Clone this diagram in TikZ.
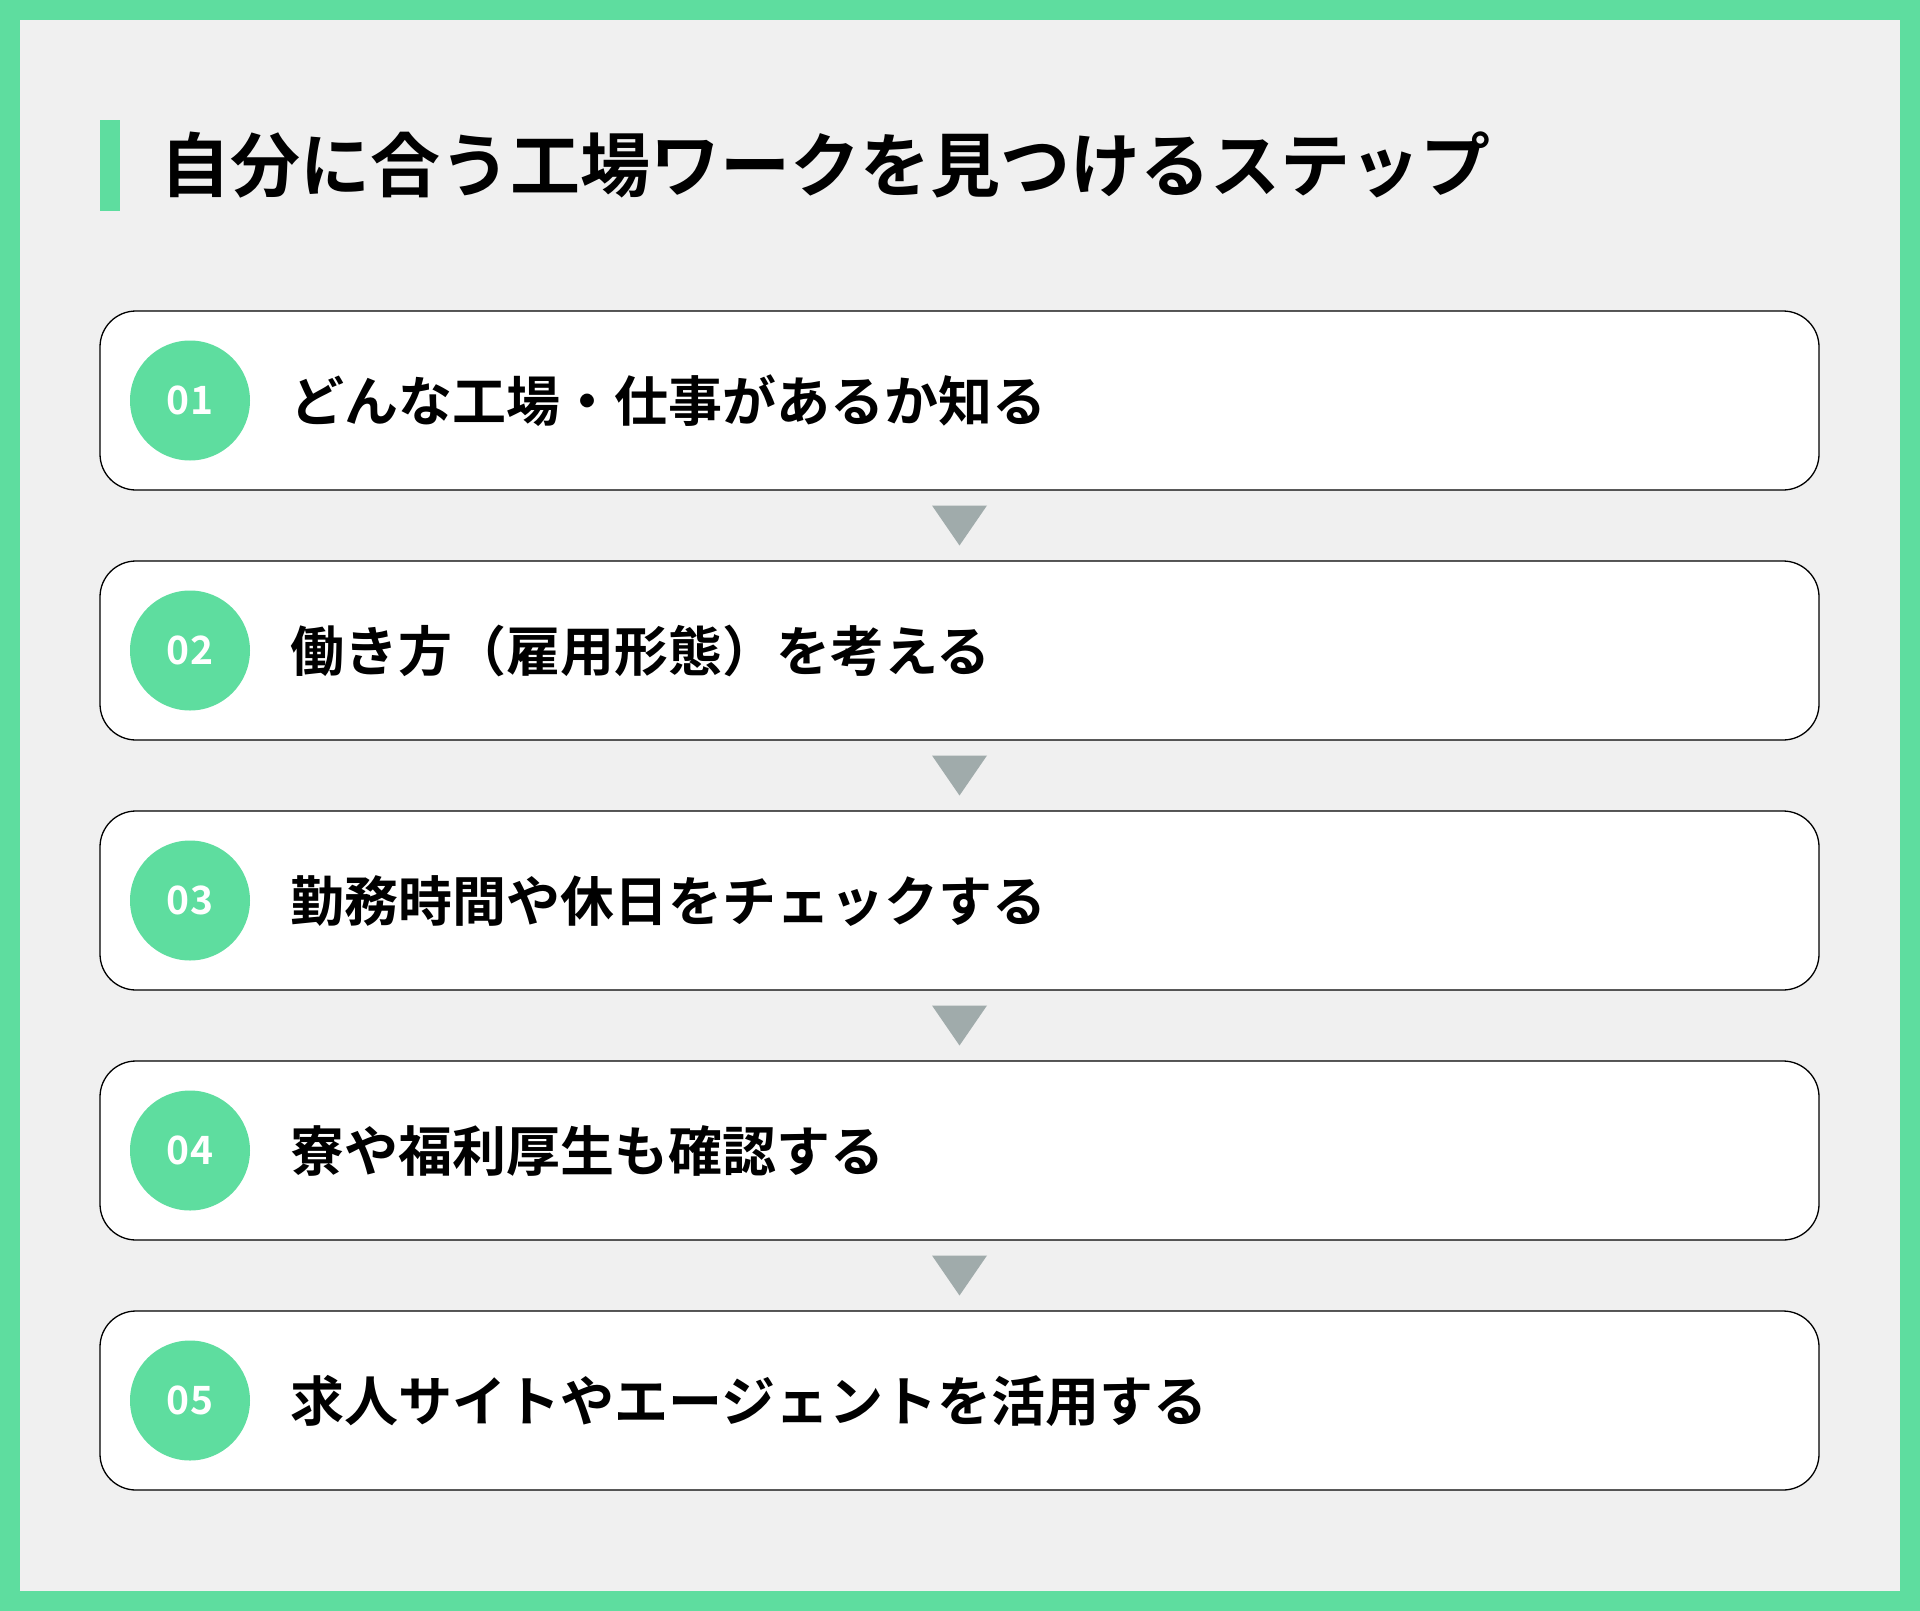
\documentclass[tikz,border=0pt]{standalone}
\usepackage{fontspec}
\setmainfont{Noto Sans CJK JP}[BoldFont={Noto Sans CJK JP Bold}]
\newfontfamily\jpbold{Noto Sans CJK JP Bold}
\usetikzlibrary{calc}
\definecolor{brandgreen}{HTML}{5EDD9F}
\definecolor{panelgray}{HTML}{F0F0F0}
\definecolor{arrowgray}{HTML}{A0ABAB}
\tikzset{
  stepbox/.style={draw=black, line width=1.3pt, fill=white, rounded corners=36pt,
    minimum width=1719pt, minimum height=179pt, inner sep=0pt},
  numdisc/.style={circle, fill=brandgreen, minimum size=120pt, inner sep=0pt,
    text=white, font=\jpbold\fontsize{39}{40}\selectfont},
  steplabel/.style={anchor=west, inner sep=0pt, font=\jpbold\fontsize{54}{60}\selectfont},
  downtri/.style={fill=arrowgray}
}
\begin{document}
\begin{tikzpicture}[x=1pt,y=-1pt]
\useasboundingbox (0,0) rectangle (1920,1611);
\fill[brandgreen] (0,0) rectangle (1920,1611);
\fill[panelgray] (20,20) rectangle (1900,1591);
% title
\fill[brandgreen] (100,120) rectangle (120,211);
\node[anchor=west, inner sep=0pt, font=\jpbold\fontsize{70}{80}\selectfont] (title) at (160,165) {自分に合う工場ワークを見つけるステップ};
% steps
\foreach \i/\txt [count=\k from 0] in {01/どんな工場・仕事があるか知る, 02/働き方（雇用形態）を考える, 03/勤務時間や休日をチェックする, 04/寮や福利厚生も確認する, 05/求人サイトやエージェントを活用する}{
  \node[stepbox] (b\i) at (959.5, 400.5+250*\k) {};
  \node[numdisc] (n\i) at (190, 400.5+250*\k) {\i};
  \node[steplabel] (t\i) at (290, 401+250*\k) {\txt};
}
% arrows between boxes
\foreach \a/\b in {01/02, 02/03, 03/04, 04/05}{
  \coordinate (m\a) at ($(b\a.south)!0.5!(b\b.north)$);
  \fill[downtri] ($(m\a)+(-27.5,-20)$) -- ($(m\a)+(27.5,-20)$) -- ($(m\a)+(0,20)$) -- cycle;
}
\end{tikzpicture}
\end{document}
